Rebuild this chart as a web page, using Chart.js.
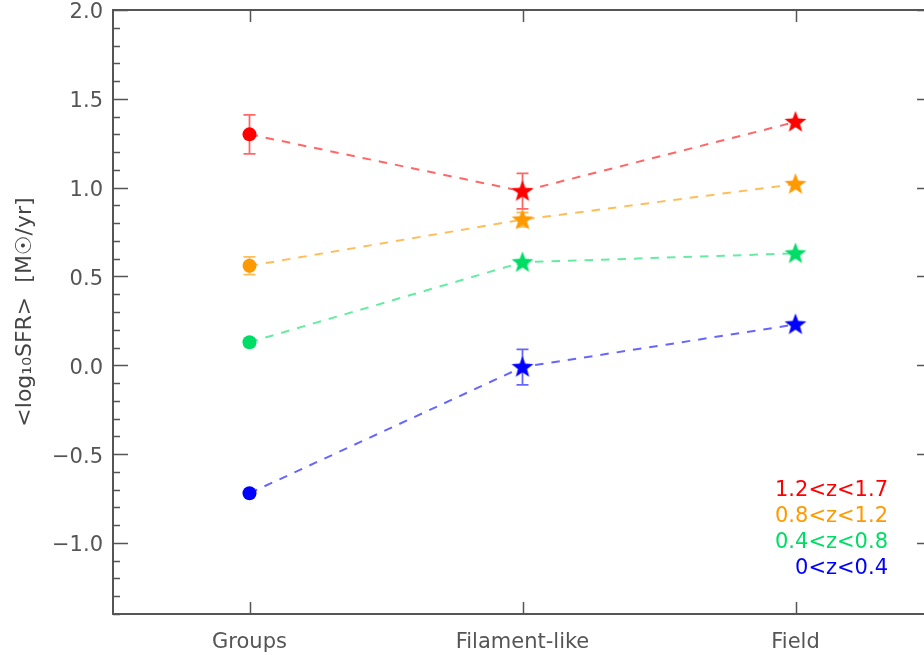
<!DOCTYPE html>
<html>
<head>
<meta charset="utf-8">
<script src="https://cdn.jsdelivr.net/npm/chart.js@4"></script>
<style>
  html, body { margin: 0; padding: 0; background: #fff; overflow: hidden; }
  #wrap { width: 940px; height: 655px; }
</style>
</head>
<body>
<div id="wrap"><canvas id="sfrChart" width="940" height="655"></canvas></div>
<script>
// environments along the x axis
const categories = ["Groups", "Filament-like", "Field"];
const yTicks = [-1.0, -0.5, 0.0, 0.5, 1.0, 1.5, 2.0];

// redshift bins, highest first (legend order)
const binLabels = ["1.2<z<1.7", "0.8<z<1.2", "0.4<z<0.8", "0<z<0.4"];
const binColors = ["#ff0000", "#ff9900", "#00dd66", "#0000ff"];
const lineColors = ["rgba(255,0,0,0.6)", "rgba(255,153,0,0.65)", "rgba(0,221,102,0.6)", "rgba(0,0,255,0.6)"];

// mean log10 SFR per environment, with errors
const sfrZ4 = [1.30, 0.98, 1.37];
const errZ4 = [0.11, 0.10, 0.0];
const sfrZ3 = [0.56, 0.82, 1.02];
const errZ3 = [0.05, 0.04, 0.0];
const sfrZ2 = [0.13, 0.58, 0.63];
const errZ2 = [0.02, 0.01, 0.0];
const sfrZ1 = [-0.72, -0.01, 0.23];
const errZ1 = [0.01, 0.10, 0.0];

const seriesValues = [sfrZ4, sfrZ3, sfrZ2, sfrZ1];
const seriesErrors = [errZ4, errZ3, errZ2, errZ1];

const FONT = '"DejaVu Sans", sans-serif';
const AXIS_GREY = "#555";

// filled five-point star used as a point marker
function makeStar(color) {
  const c = document.createElement("canvas");
  c.width = 24; c.height = 24;
  const g = c.getContext("2d");
  g.beginPath();
  for (let k = 0; k < 10; k++) {
    const r = k % 2 === 0 ? 11.5 : 4.8;
    const a = -Math.PI / 2 + k * Math.PI / 5;
    const px = 12 + r * Math.cos(a), py = 12.5 + r * Math.sin(a);
    if (k === 0) g.moveTo(px, py); else g.lineTo(px, py);
  }
  g.closePath();
  g.fillStyle = color;
  g.fill();
  return c;
}

const datasets = seriesValues.map((vals, d) => {
  const star = makeStar(binColors[d]);
  return {
    label: binLabels[d],
    data: vals.map((v, i) => ({ x: i, y: v })),
    borderColor: lineColors[d],
    borderWidth: 2,
    borderDash: [8.5, 8],
    pointStyle: ["circle", star, star],
    pointRadius: 7,
    pointBackgroundColor: binColors[d],
    pointBorderColor: binColors[d],
    pointBorderWidth: 0,
    tension: 0
  };
});

const errorBars = {
  id: "errorBars",
  afterDatasetsDraw(chart) {
    const { ctx, scales: { x, y } } = chart;
    ctx.save();
    ctx.lineWidth = 1.8;
    seriesValues.forEach((vals, d) => {
      ctx.strokeStyle = lineColors[d];
      vals.forEach((v, i) => {
        const e = seriesErrors[d][i];
        if (!e) return;
        const px = x.getPixelForValue(i);
        const top = y.getPixelForValue(v + e);
        const bot = y.getPixelForValue(v - e);
        ctx.beginPath();
        ctx.moveTo(px, top); ctx.lineTo(px, bot);
        ctx.moveTo(px - 6, top); ctx.lineTo(px + 6, top);
        ctx.moveTo(px - 6, bot); ctx.lineTo(px + 6, bot);
        ctx.stroke();
      });
    });
    ctx.restore();
  }
};

// box frame with inward ticks on all four sides
const frame = {
  id: "frame",
  afterDraw(chart) {
    const { ctx, chartArea: a, scales: { x, y } } = chart;
    ctx.save();
    ctx.strokeStyle = AXIS_GREY;
    ctx.lineWidth = 2;
    ctx.strokeRect(a.left, a.top, a.right - a.left, a.bottom - a.top);
    ctx.lineWidth = 1.5;
    ctx.beginPath();
    for (let k = -14; k <= 20; k++) {
      const py = Math.round(y.getPixelForValue(k / 10)) + 0.5;
      const len = k % 5 === 0 ? 15 : 7;
      ctx.moveTo(a.left, py); ctx.lineTo(a.left + len, py);
      ctx.moveTo(a.right, py); ctx.lineTo(a.right - len, py);
    }
    categories.forEach((c, i) => {
      const px = Math.round(x.getPixelForValue(i)) + 0.5;
      ctx.moveTo(px, a.bottom); ctx.lineTo(px, a.bottom - 12);
      ctx.moveTo(px, a.top); ctx.lineTo(px, a.top + 12);
    });
    ctx.stroke();
    ctx.restore();
  }
};

const binLegend = {
  id: "binLegend",
  afterDraw(chart) {
    const { ctx, chartArea: a } = chart;
    ctx.save();
    ctx.font = "21px " + FONT;
    ctx.textAlign = "right";
    ctx.textBaseline = "middle";
    binLabels.forEach((t, d) => {
      ctx.fillStyle = binColors[d];
      ctx.fillText(t, a.right - 44, a.top + 481 + d * 25.7);
    });
    ctx.restore();
  }
};

new Chart(document.getElementById("sfrChart"), {
  type: "line",
  data: { datasets },
  plugins: [errorBars, frame, binLegend],
  options: {
    responsive: false,
    animation: false,
    layout: { padding: { top: 10, right: 8, left: 0, bottom: 0 } },
    plugins: { legend: { display: false }, tooltip: { enabled: false } },
    scales: {
      x: {
        type: "linear",
        min: -0.5,
        max: 2.5,
        grid: { display: false, drawTicks: false },
        border: { display: false },
        afterBuildTicks: s => { s.ticks = categories.map((c, i) => ({ value: i })); },
        afterFit: s => { s.height = 41; s.paddingLeft = 0; s.paddingRight = 0; },
        ticks: {
          padding: 16,
          color: AXIS_GREY,
          font: { family: FONT, size: 21 },
          callback: v => categories[v]
        }
      },
      y: {
        min: -1.4,
        max: 2.0,
        grid: { display: false, drawTicks: false },
        border: { display: false },
        afterBuildTicks: s => { s.ticks = yTicks.map(v => ({ value: v })); },
        afterFit: s => { s.width = 113; s.paddingTop = 0; s.paddingBottom = 0; },
        ticks: {
          padding: 10,
          labelOffset: 3,
          color: AXIS_GREY,
          font: { family: FONT, size: 21 },
          callback: v => (v < 0 ? "\u2212" : "") + Math.abs(v).toFixed(1)
        },
        title: {
          display: true,
          text: "<log\u2081\u2080SFR>  [M\u2609/yr]",
          color: "#444",
          font: { family: FONT, size: 22 },
          padding: { top: 12, bottom: 0 }
        }
      }
    }
  }
});
</script>
</body>
</html>
